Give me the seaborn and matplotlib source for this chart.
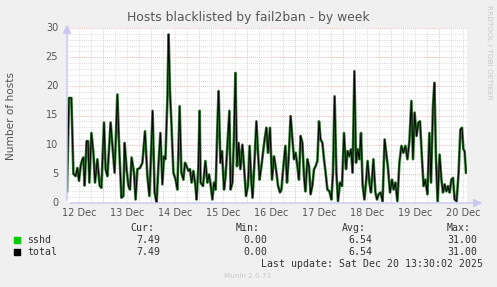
import numpy as np
import pandas as pd
import matplotlib
matplotlib.use("Agg")
import matplotlib.pyplot as plt
import matplotlib.dates as mdates
import seaborn as sns

# hours after 12 Dec 2025 00:00
hours = [6.0, 7.0, 8.2, 9.2, 10.3, 11.2, 12.0, 12.8, 13.7, 14.2, 14.8, 15.8, 16.5, 17.2, 18.2,
         19.2, 20.0, 21.2, 22.3, 23.2, 24.5, 25.3, 26.2, 27.8, 29.0, 29.8, 31.2, 32.0, 33.2,
         34.2, 34.8, 35.8, 36.7, 37.5, 38.3, 39.5, 40.3, 41.2, 42.5, 43.7, 45.0, 46.2, 47.2,
         47.8, 48.8, 49.8, 50.8, 51.7, 52.7, 53.7, 54.5, 55.2, 56.2, 56.8, 57.5, 58.2, 59.2,
         60.3, 61.2, 62.3, 63.2, 64.2, 65.0, 65.8, 66.7, 67.5, 68.3, 69.2, 70.2, 70.8, 71.7,
         72.3, 72.8, 74.0, 75.2, 76.2, 77.0, 77.8, 78.7, 79.5, 80.3, 81.2, 81.8, 82.7, 83.5,
         84.5, 85.3, 86.2, 87.2, 87.8, 88.7, 89.5, 90.2, 91.0, 91.8, 92.7, 93.7, 94.5, 95.5,
         96.5, 97.3, 98.2, 98.8, 99.8, 100.7, 101.5, 102.3, 103.2, 104.0, 104.8, 105.7, 106.5,
         107.5, 108.5, 109.5, 110.5, 111.5, 112.5, 113.2, 114.2, 115.2, 116.0, 116.8, 117.8,
         118.7, 119.5, 120.3, 121.2, 122.0, 122.8, 123.7, 124.5, 125.2, 126.2, 127.0, 127.8,
         128.7, 129.5, 130.3, 131.2, 132.0, 132.8, 133.7, 134.5, 135.3, 136.2, 137.2, 138.2,
         139.0, 139.8, 140.7, 141.5, 142.5, 143.5, 144.5, 145.5, 146.3, 147.2, 148.0, 148.8,
         149.7, 150.5, 151.3, 152.2, 153.0, 153.8, 154.7, 155.5, 156.3, 157.2, 158.0, 159.2,
         160.2, 161.0, 161.8, 162.8, 163.8, 164.8, 165.7, 166.5, 167.5, 168.5, 169.3, 170.2,
         171.2, 172.2, 173.2, 174.2, 175.2, 176.2, 177.2, 178.2, 179.0, 179.8, 180.8, 181.7,
         182.5, 183.5, 184.3, 185.2, 186.2, 187.2, 188.0, 189.0, 189.7, 190.5, 191.3, 192.3,
         193.2, 194.0, 194.8, 195.7, 196.5, 197.3, 198.2, 199.0, 199.8, 200.8, 201.8, 202.7,
         203.5, 204.2, 204.8, 205.5]
hosts = [2.0, 18.0, 18.0, 5.0, 4.6, 6.0, 3.8, 6.3, 7.5, 7.8, 3.0, 10.6, 10.6, 3.5, 12.0,
         8.6, 3.5, 7.5, 3.0, 2.6, 13.8, 5.8, 4.6, 13.8, 8.6, 5.2, 18.6, 10.3, 0.9,
         1.2, 10.3, 5.8, 3.0, 2.3, 7.8, 5.2, 0.6, 5.8, 6.0, 6.9, 12.3, 4.6, 1.2,
         6.3, 15.8, 1.8, 0.0, 6.3, 12.0, 3.2, 8.0, 7.5, 17.8, 28.9, 18.9, 13.8, 5.2,
         4.0, 2.3, 16.6, 5.2, 4.0, 6.9, 6.3, 5.5, 5.8, 3.5, 5.5, 3.0, 0.6, 6.3,
         15.8, 3.5, 2.9, 7.2, 3.5, 4.9, 3.2, 0.6, 3.5, 2.3, 13.2, 19.2, 6.9, 8.9,
         2.3, 4.6, 9.8, 15.8, 2.3, 3.5, 11.5, 22.3, 6.3, 10.3, 5.8, 10.0, 6.3, 1.2,
         3.0, 9.8, 3.5, 0.9, 7.5, 14.0, 8.6, 4.0, 6.3, 8.6, 10.9, 12.9, 8.6,
         12.9, 4.0, 8.0, 5.8, 3.0, 1.8, 2.3, 6.3, 9.8, 3.5, 7.5, 14.9,
         10.9, 7.5, 8.6, 6.3, 4.0, 11.5, 10.3, 4.6, 2.0, 7.5, 6.3, 1.5,
         3.0, 5.8, 6.3, 7.2, 14.0, 10.9, 10.3, 7.5, 5.2, 2.3, 2.0, 0.6,
         5.2, 18.3, 5.2, 0.3, 3.5, 2.9, 12.0, 5.8, 8.9, 8.0, 9.2, 5.2,
         22.6, 6.9, 9.2, 7.5, 12.0, 3.2, 0.6, 3.5, 7.2, 3.5, 1.8, 7.5,
         1.8, 0.6, 1.5, 1.8, 0.3, 10.9, 8.3, 6.0, 1.8, 4.0, 2.3, 3.5,
         0.3, 6.9, 9.8, 8.6, 9.8, 7.5, 10.6, 17.5, 7.5, 15.5, 11.5, 13.8,
         14.0, 7.5, 2.9, 4.0, 1.5, 12.0, 3.5, 16.6, 20.6, 7.5, 0.3, 8.3,
         4.0, 1.8, 3.2, 2.0, 2.9, 1.8, 4.0, 4.3, 0.6, 0.3, 5.2, 12.6,
         12.9, 9.2, 8.9, 5.2]

day_labels = ["12 Dec", "13 Dec", "14 Dec", "15 Dec", "16 Dec", "17 Dec", "18 Dec", "19 Dec", "20 Dec"]
y_ticks = [0, 5, 10, 15, 20, 25, 30]
legend_names = ["sshd", "total"]
cur_vals = ["7.49", "7.49"]
min_vals = ["0.00", "0.00"]
avg_vals = ["6.54", "6.54"]
max_vals = ["31.00", "31.00"]
title = "Hosts blacklisted by fail2ban - by week"
ylabel = "Number of hosts"
last_update = "Last update: Sat Dec 20 13:30:02 2025"

base = pd.Timestamp("2025-12-12 00:00")
times = [base + pd.Timedelta(hours=h) for h in hours]
df = pd.DataFrame({"time": times, "sshd": hosts, "total": hosts})

W, H = 497, 287
fig = plt.figure(figsize=(W / 100, H / 100), dpi=100, facecolor="#F0F0F0")
L, R, T, B = 67, 467, 28, 203
ax = fig.add_axes([L / W, 1 - B / H, (R - L) / W, (B - T) / H])
ax.set_facecolor("white")

x0 = base + pd.Timedelta(hours=6)
x1 = base + pd.Timedelta(hours=206)
ax.set_xlim(x0, x1)
ax.set_ylim(0, 30)

# grid
ax.xaxis.set_major_locator(mdates.DayLocator())
ax.xaxis.set_minor_locator(mdates.HourLocator(byhour=[6, 12, 18]))
ax.yaxis.set_major_locator(plt.FixedLocator(y_ticks))
ax.yaxis.set_minor_locator(plt.MultipleLocator(1))
ax.grid(which="minor", color="#d0d0d0", linestyle=(0, (1, 1.5)), linewidth=0.6)
ax.grid(which="major", color="#f4a0a0", linestyle=(0, (1, 1.5)), linewidth=0.6)
ax.set_axisbelow(True)

sns.lineplot(data=df, x="time", y="sshd", ax=ax, color="#347a34", linewidth=1.9, legend=False)
sns.lineplot(data=df, x="time", y="total", ax=ax, color="black", linewidth=0.7, legend=False)

for s in ax.spines.values():
    s.set_visible(False)
ax.tick_params(which="both", length=0)
ax.set_xticklabels([])
ax.set_yticklabels([])
ax.set_xlabel("")
ax.set_ylabel("")

tc = "#555555"
for v in y_ticks:
    ax.text(-0.022, v, str(v), transform=ax.get_yaxis_transform(), ha="right", va="center",
            fontsize=7, color=tc)
for i, lab in enumerate(day_labels):
    t = base + pd.Timedelta(days=i, hours=12)
    ax.text(t, -0.03, lab, transform=ax.get_xaxis_transform(), ha="center", va="top",
            fontsize=7, color=tc)

# axes with arrows
axc = "#c8c8f0"
ax.annotate("", xy=(0, 1.035), xytext=(0, 0), xycoords="axes fraction",
            arrowprops=dict(arrowstyle="-|>,head_length=0.5,head_width=0.25", color=axc, lw=1),
            annotation_clip=False)
ax.annotate("", xy=(1.045, 0), xytext=(0, 0), xycoords="axes fraction",
            arrowprops=dict(arrowstyle="-|>,head_length=0.5,head_width=0.25", color=axc, lw=1),
            annotation_clip=False)

fig.text(248 / W, 1 - 17 / H, title, ha="center", va="center", fontsize=8.9, color=tc)
fig.text(11 / W, 1 - 116 / H, ylabel, ha="center", va="center", rotation=90, fontsize=7.6, color=tc)
fig.text(489 / W, 1 - 5 / H, "RRDTOOL / TOBI OETIKER", ha="center", va="top", rotation=-90,
         fontsize=5.3, color="#c8c8c8")

mono = "DejaVu Sans Mono"
fs = 7.1
hy = 1 - 228 / H
for x, lab in [(154, "Cur:"), (260, "Min:"), (366, "Avg:"), (471, "Max:")]:
    fig.text(x / W, hy, lab, ha="right", va="center", fontsize=fs, family=mono, color="#333333")
colors = ["#00CC00", "black"]
for i, name in enumerate(legend_names):
    y = 1 - (240 + 12 * i) / H
    fig.patches.append(plt.Rectangle((14 / W, y - 2.5 / H), 5.5 / W, 5.5 / H,
                                     transform=fig.transFigure, color=colors[i]))
    fig.text(27 / W, y, name, ha="left", va="center", fontsize=fs, family=mono, color="#333333")
    for x, vals in [(160, cur_vals), (267, min_vals), (372, avg_vals), (477, max_vals)]:
        fig.text(x / W, y, vals[i], ha="right", va="center", fontsize=fs, family=mono, color="#333333")
fig.text(483 / W, 1 - 264 / H, last_update, ha="right", va="center", fontsize=fs, family=mono,
         color="#333333")
fig.text(248 / W, 1 - 276 / H, "Munin 2.0.73", ha="center", va="center", fontsize=5.2, color="#c8c8c8")

fig.savefig("out.png", dpi=100, facecolor=fig.get_facecolor())
